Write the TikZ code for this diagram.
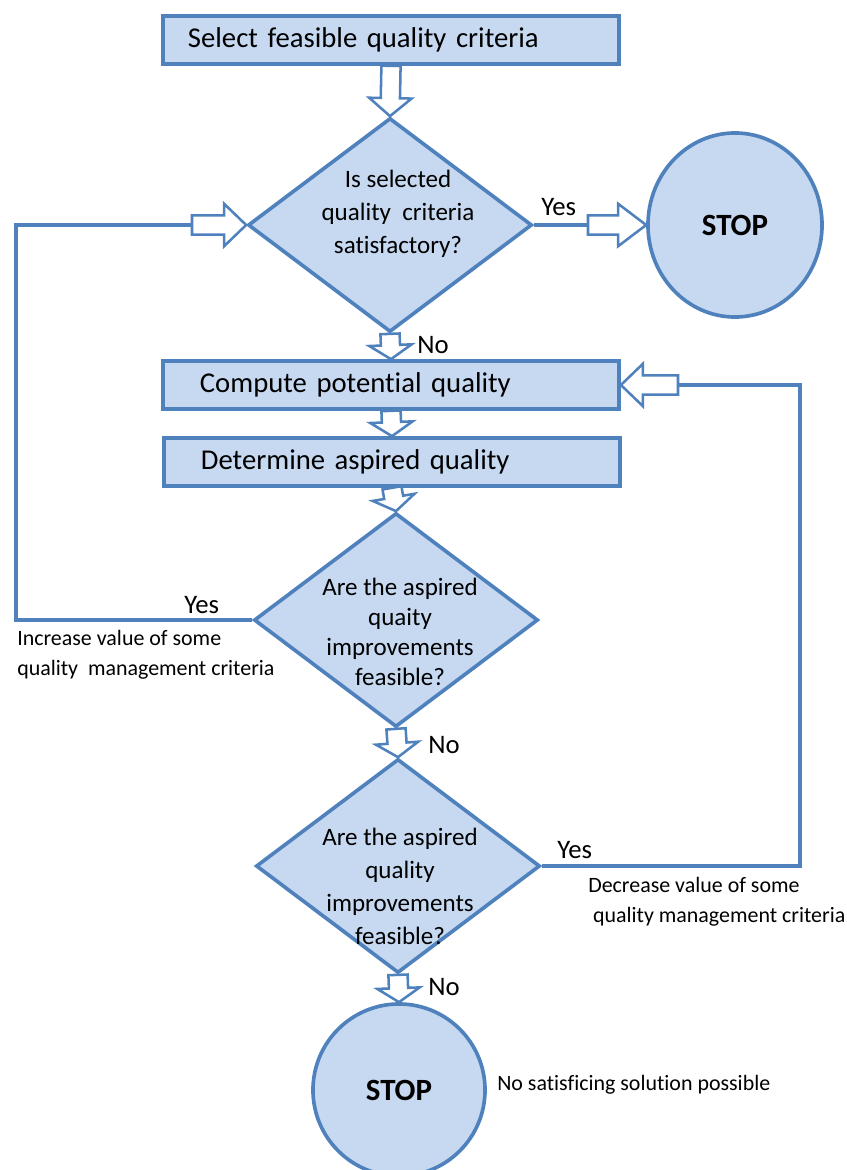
\documentclass[tikz,border=0pt]{standalone}
\usepackage{fontspec}
\setmainfont{Carlito}[Ligatures=NoCommon]
\usetikzlibrary{shapes.geometric,calc}
\definecolor{boxfill}{HTML}{C6D9F1}
\definecolor{boxline}{HTML}{4F81BD}
\tikzset{
    proc/.style={draw=boxline, fill=boxfill, line width=2.6pt, rectangle,
        minimum width=11.4cm, minimum height=1.2cm, inner sep=0pt,
        align=left, text width=9.55cm, font=\fontsize{20.4}{24}\selectfont},
    decide/.style={draw=boxline, fill=boxfill, line width=2.6pt, diamond,
        minimum width=7.1cm, minimum height=5.35cm, inner sep=0pt},
    halt/.style={draw=boxline, fill=boxfill, line width=2.6pt, ellipse,
        inner sep=0pt, font=\fontsize{22}{26}\selectfont\bfseries},
    ask/.style={align=center, inner sep=0pt, font=\fontsize{17.8}{23.5}\selectfont},
    link/.style={draw=boxline, line width=2.6pt, line join=miter},
    hollow/.style={draw=boxline, fill=white, line width=1.8pt, line join=miter,
        to path={let \p1=($(\tikztotarget)!#1!(\tikztostart)$) in
            ($(\tikztostart)!0.24cm!90:(\tikztotarget)$)
            -- ($(\p1)!0.24cm!90:(\tikztotarget)$)
            -- ($(\p1)!0.53cm!90:(\tikztotarget)$)
            -- (\tikztotarget)
            -- ($(\p1)!0.53cm!-90:(\tikztotarget)$)
            -- ($(\p1)!0.24cm!-90:(\tikztotarget)$)
            -- ($(\tikztostart)!0.24cm!-90:(\tikztotarget)$) -- cycle}},
    hollow/.default=0.45cm,
    yesno/.style={anchor=west, inner sep=0pt, font=\fontsize{19}{23}\selectfont},
    remark/.style={anchor=west, inner sep=0pt, align=left, font=\fontsize{15.6}{21.3}\selectfont}
}
\begin{document}
\begin{tikzpicture}[x=0.025cm, y=-0.025cm]

    \useasboundingbox (0,0) rectangle (847,1170);
    \clip (0,0) rectangle (847,1170);

    \node[proc, text width=10.15cm] (Sel) at (391,40) {Select feasible quality criteria};
    \node[decide] (Q1) at (390,225) {};
    \node[ask] (Q1txt) at (398,214) {Is selected\\quality\ \ criteria\\satisfactory?};
    \node[halt, minimum width=4.35cm, minimum height=4.6cm] (Stop1) at (735,225) {STOP};
    \node[proc] (Comp) at (391,385) {Compute potential quality};
    \node[proc] (Det) at (392,462) {Determine aspired quality};
    \node[decide] (Q2) at (396,620) {};
    \node[ask, font=\fontsize{17.8}{21.3}\selectfont] (Q2txt) at (400,632) {Are the aspired\\quaity\\improvements\\feasible?};
    \node[decide] (Q3) at (398,866) {};
    \node[ask] (Q3txt) at (400,886) {Are the aspired\\quality\\improvements\\feasible?};
    \node[halt, minimum width=4.3cm, minimum height=4.3cm] (Stop2) at (399,1090) {STOP};

    \coordinate (yes1) at (588,225);
    \coordinate (lc) at (16,225);
    \coordinate (lfeed) at (192,225);
    \coordinate (rc) at (800,385);
    \coordinate (rfeed) at (678,385);

    \draw[hollow] (Sel.south) to (Q1.north);
    \draw[link] (Q1.east) -- (yes1);
    \draw[hollow=0.7cm] (yes1) to (Stop1.west);
    \draw[hollow=0.35cm] (Q1.south) to (Comp.north);
    \draw[hollow=0.35cm] (Comp.south) to (Det.north);
    \draw[hollow=0.35cm] (Det.south) to (Q2.north);
    \draw[link] (Q2.west) -| (lc) -- (lfeed);
    \draw[hollow=0.55cm] (lfeed) to (Q1.west);
    \draw[hollow=0.35cm] (Q2.south) to (Q3.north);
    \draw[link] (Q3.east) -| (rc) -- (rfeed);
    \draw[hollow=0.55cm] (rfeed) to (Comp.east);
    \draw[hollow=0.35cm] (Q3.south) to (Stop2.north);

    \node[yesno] (Yes1) at (541,207) {Yes};
    \node[yesno] (No1) at (417,345) {No};
    \node[yesno] (Yes2) at (184,605) {Yes};
    \node[remark] (Inc) at (17,655) {Increase value of some\\quality\ \ management criteria};
    \node[yesno] (No2) at (428,745) {No};
    \node[yesno] (Yes3) at (557,850) {Yes};
    \node[remark] (Dec) at (588,902) {Decrease value of some\\\hspace*{0.12cm}quality management criteria};
    \node[yesno] (No3) at (428,987) {No};
    \node[remark] (Nosol) at (497,1085) {No satisficing solution possible};
        \end{tikzpicture}
\end{document}
